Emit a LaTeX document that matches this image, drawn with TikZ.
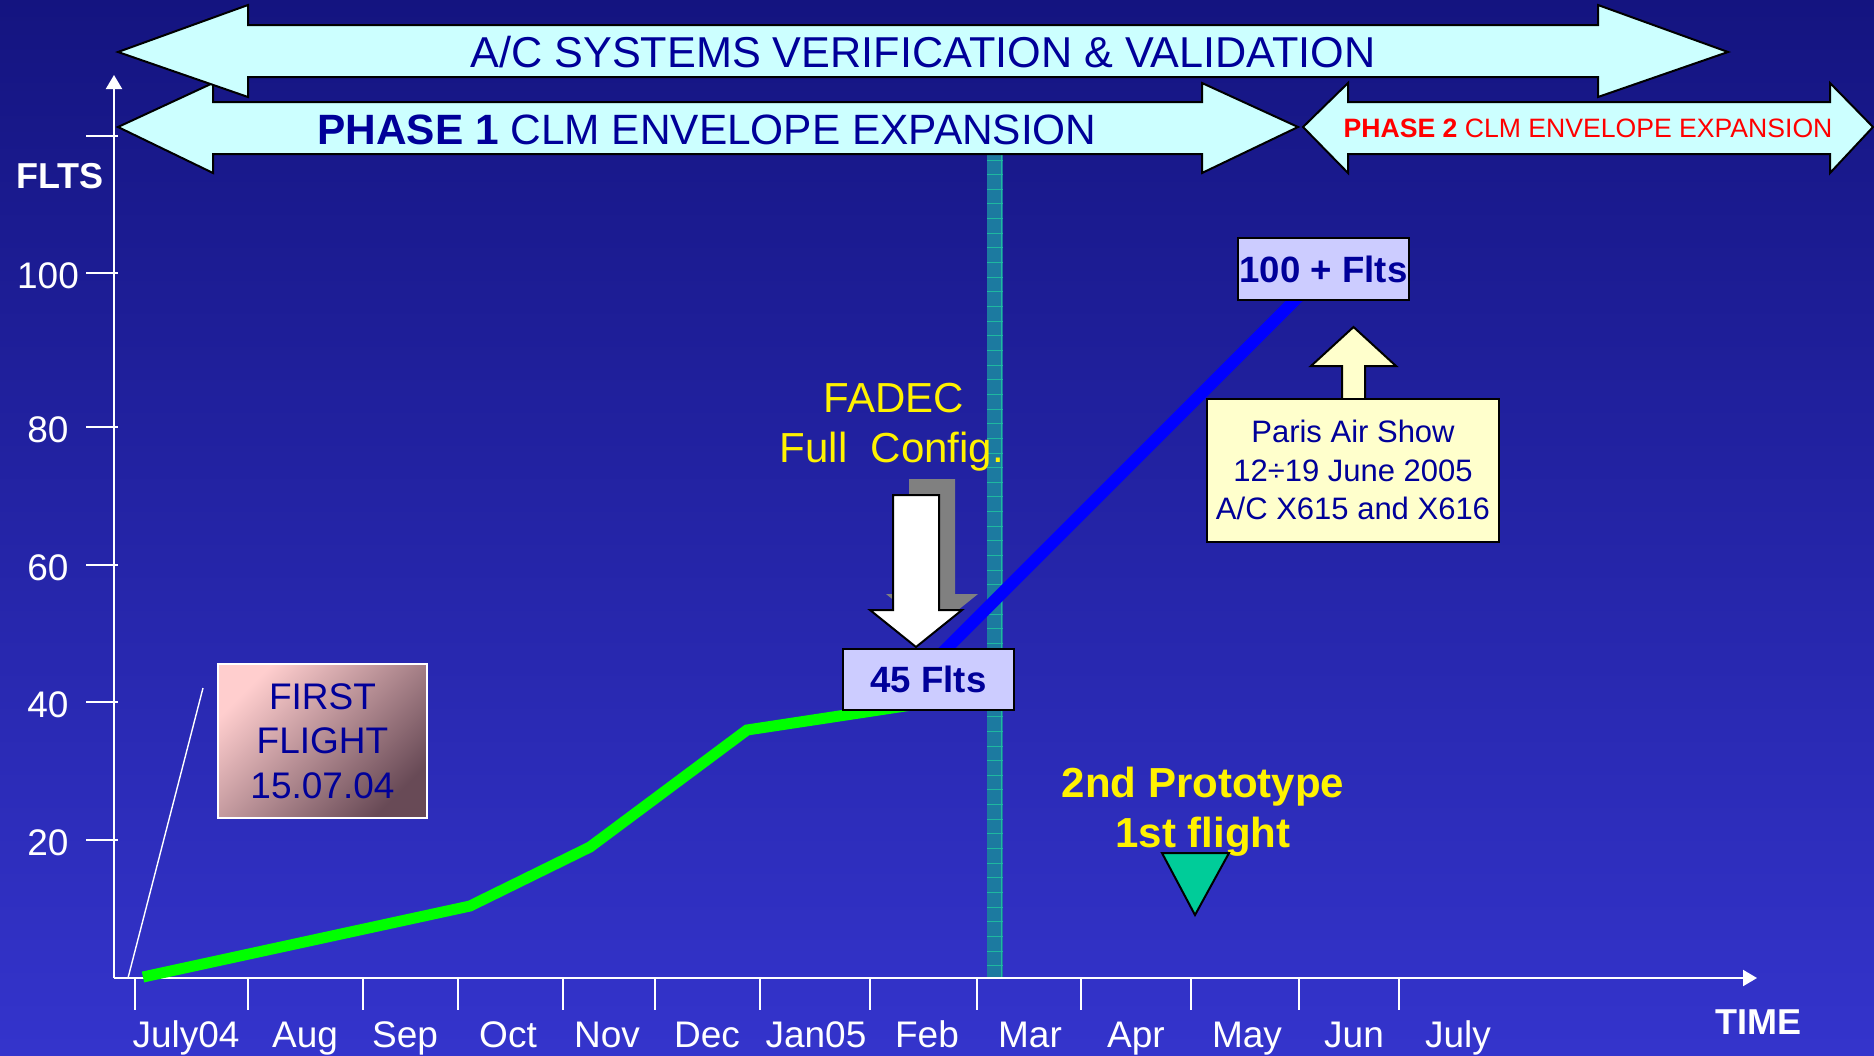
\documentclass[tikz,border=0pt]{standalone}
\usepackage{fontspec}
\setmainfont{Liberation Sans}
\usetikzlibrary{arrows.meta}
\definecolor{bgtop}{RGB}{20,20,128}
\definecolor{bgbot}{RGB}{52,52,204}
\definecolor{arrowcyan}{RGB}{204,255,255}
\definecolor{navytext}{RGB}{0,0,153}
\definecolor{lavbox}{RGB}{204,204,255}
\definecolor{ylwbox}{RGB}{255,255,204}
\definecolor{bandfill}{RGB}{28,122,160}
\definecolor{bandline}{RGB}{30,184,160}
\definecolor{ffpink}{RGB}{255,206,206}
\definecolor{ffdark}{RGB}{104,74,86}
\definecolor{trigreen}{RGB}{0,204,153}
\definecolor{shadowgrey}{RGB}{128,128,128}
\begin{document}
\begin{tikzpicture}[x=0.5pt,y=-0.5pt,
  bigarrow/.style={fill=arrowcyan,draw=black,line width=1pt,line join=miter},
  axisline/.style={white,line width=1pt},
  tickline/.style={white,line width=1pt},
  ylab/.style={text=white,font=\fontsize{18.5}{22}\selectfont,anchor=base,inner sep=0pt},
  mlab/.style={text=white,font=\fontsize{18.5}{22}\selectfont,anchor=base,inner sep=0pt},
  flbox/.style={fill=lavbox,draw=black,line width=1pt,text=navytext,font=\bfseries\fontsize{18.3}{22}\selectfont,inner sep=0pt},
  bandlinestyle/.style={bandline,line width=0.5pt}
]
\useasboundingbox (0,0) rectangle (1874,1055);
\shade[top color=bgtop,bottom color=bgbot] (0,0) rectangle (1874,1055);

% teal band
\fill[bandfill] (987,155) rectangle (1003,978);
\foreach \k in {0,...,55} \draw[bandlinestyle] (987,{160+\k*14.65}) -- (1003,{160+\k*14.65});
\draw[bandline,line width=0.4pt] (1001,155) -- (1001,978);

% top arrows
\draw[bigarrow] (118,127) -- (213,83) -- (213,102) -- (1202,102) -- (1202,83) -- (1298,127) -- (1202,173) -- (1202,154) -- (213,154) -- (213,173) -- cycle;
\draw[bigarrow] (118,52) -- (248,5) -- (248,25) -- (1598,25) -- (1598,5) -- (1728,52) -- (1598,97) -- (1598,77) -- (248,77) -- (248,97) -- cycle;
\draw[bigarrow] (1303,127) -- (1348,83) -- (1348,102) -- (1830,102) -- (1830,83) -- (1873,127) -- (1830,173) -- (1830,154) -- (1348,154) -- (1348,173) -- cycle;
\node[anchor=base,inner sep=0pt,text=navytext,font=\fontsize{21.6}{24}\selectfont] (acsys) at (923,67) {A/C SYSTEMS VERIFICATION \& VALIDATION};
\node[anchor=base,inner sep=0pt,text=navytext,font=\fontsize{21.2}{24}\selectfont] (phase1) at (707,144) {\textbf{PHASE 1} CLM ENVELOPE EXPANSION};
\node[anchor=base,inner sep=0pt,text=red,font=\fontsize{13.3}{16}\selectfont] (phase2) at (1588,137) {\textbf{PHASE 2} CLM ENVELOPE EXPANSION};

% axes
\coordinate (origin) at (114,978);
\coordinate (ytip) at (114,75);
\coordinate (xtip) at (1757,978);
\draw[axisline,-{Triangle[width=8pt,length=7pt]}] (origin) -- (ytip);
\draw[axisline,-{Triangle[width=8pt,length=7pt]}] (origin) -- (xtip);
\draw[tickline] (86,136) -- (118,136);
\foreach \y/\lab in {273/100,427/80,565/60,702/40,840/20}{
  \draw[tickline] (86,\y) -- (118,\y);
  \node[ylab] (y\lab) at (48,{\y+15}) {\lab};
}
\node[anchor=base,inner sep=0pt,text=white,font=\bfseries\fontsize{18}{22}\selectfont] (flts) at (60,188) {FLTS};
\node[anchor=base,inner sep=0pt,text=white,font=\bfseries\fontsize{18}{22}\selectfont] (time) at (1758,1034) {TIME};

\foreach \x in {135,248,363,458,563,655,760,870,977,1081,1191,1299,1399}
  \draw[tickline] (\x,978) -- (\x,1010);
\foreach \x/\lab [count=\i] in {186/July04,305/Aug,405/Sep,508/Oct,607/Nov,707/Dec,816/Jan05,927/Feb,1030/Mar,1136/Apr,1247/May,1354/Jun,1458/July}
  \node[mlab] (m\i) at (\x,1047) {\lab};

% first flight pointer line
\coordinate (ffa) at (128,978);
\coordinate (ffb) at (203,688);
\draw[white,line width=0.7pt] (ffa) -- (ffb);

% green curve
\draw[green,line width=5.5pt,line join=miter] (143,977) -- (470,906) -- (590,847) -- (747,730) -- (925,703);

% blue line
\draw[blue,line width=6pt] (925,670) -- (1310,285);

% white arrow with grey shadow
\fill[shadowgrey] (909,479) -- (955,479) -- (955,594) -- (978,594) -- (932,631) -- (886,594) -- (909,594) -- cycle;
\draw[fill=white,draw=black,line width=1pt] (893,495) -- (939,495) -- (939,610) -- (962,610) -- (916,647) -- (870,610) -- (893,610) -- cycle;

% boxes
\node[flbox,minimum width=85.5pt,minimum height=30.5pt] (f45) at (928.5,679.5) {45 Flts};
\node[flbox,minimum width=85.5pt,minimum height=31pt] (f100) at (1323.5,269) {100 + Flts};

% Paris up arrow and box
\draw[fill=ylwbox,draw=black,line width=1pt] (1342,399) -- (1342,366) -- (1311,366) -- (1353.5,327) -- (1396,366) -- (1365,366) -- (1365,399);
\node[fill=ylwbox,draw=black,line width=1pt,minimum width=146pt,minimum height=71.5pt,inner sep=0pt,align=center,text=navytext,font=\fontsize{15.5}{19.2}\selectfont] (paris) at (1353,470) {Paris Air Show\\12÷19 June 2005\\A/C X615 and X616};

% first flight box
\node[top color=ffpink,bottom color=ffdark,shading angle=45,draw=white,line width=1pt,minimum width=104.5pt,minimum height=77pt,inner sep=0pt,align=center,text=navytext,font=\fontsize{18.5}{22.2}\selectfont] (ffbox) at (322.5,741) {FIRST\\FLIGHT\\15.07.04};

% FADEC text
\node[anchor=base,inner sep=0pt,text=yellow,font=\fontsize{21}{25}\selectfont] (fadec1) at (894,412) {FADEC};
\node[anchor=base,inner sep=0pt,text=yellow,font=\fontsize{21}{25}\selectfont] (fadec2) at (892,462) {Full\ \ Config.};

% 2nd prototype
\node[anchor=base,inner sep=0pt,text=yellow,font=\bfseries\fontsize{21}{25}\selectfont] (proto1) at (1203,797) {2nd Prototype};
\node[anchor=base,inner sep=0pt,text=yellow,font=\bfseries\fontsize{21}{25}\selectfont] (proto2) at (1203,847) {1st flight};
\draw[fill=trigreen,draw=black,line width=1pt,line join=miter] (1162,853) -- (1229,853) -- (1195,915) -- cycle;
\end{tikzpicture}
\end{document}
